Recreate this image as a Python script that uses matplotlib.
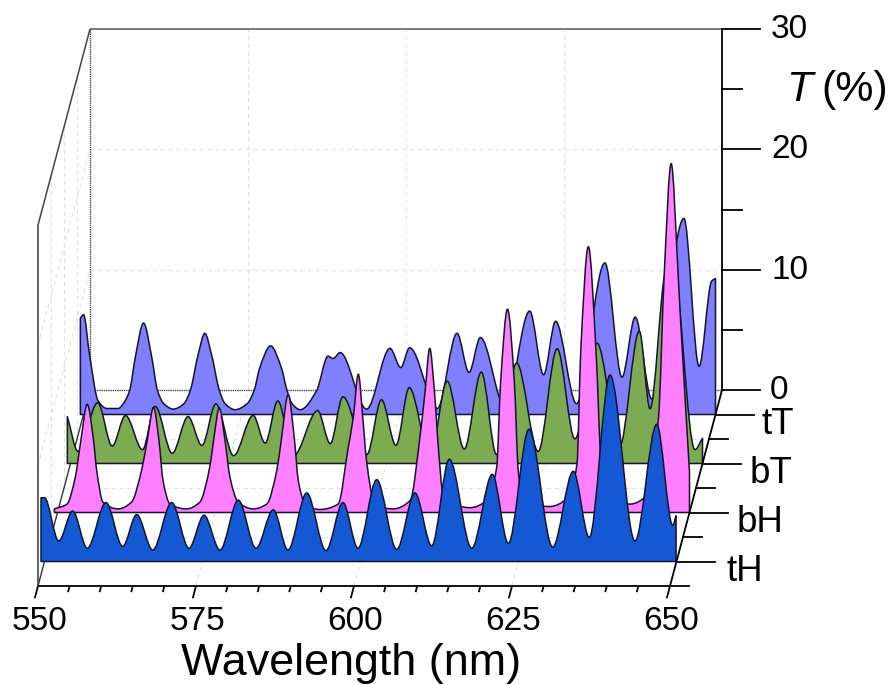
import numpy as np
import matplotlib
matplotlib.use("Agg")
import matplotlib.pyplot as plt
from matplotlib.path import Path
from matplotlib.patches import PathPatch
from matplotlib.transforms import Affine2D

plt.rcParams['font.family'] = ['Liberation Sans', 'DejaVu Sans']

## datos
wl_tT = [549.5, 550.0, 551.0, 552.3, 553.7, 555.5,
         556.3, 557.3, 558.2, 559.5, 560.8, 561.7, 562.7, 564.2,
         565.9, 566.9, 568.15, 569.2, 570.25, 571.5, 572.4, 574.0,
         575.9, 577.0, 577.9, 579.6, 581.3, 582.2, 583.0, 584.3,
         586.9, 588.7, 589.5, 590.6,
         594.8, 598.5, 600.2, 601.6, 606.0, 609.1, 611.0, 612.8, 616.7, 620.6, 622.8, 624.7, 628.0, 632.5, 635.2,
         637.3, 639.9, 645.0, 647.4, 649.4, 650.0]
T_tT = [8.0, 8.3, 4.8, 1.15, 0.5, 0.5,
        0.9, 2.0, 4.76, 7.6, 4.76, 2.0, 0.9, 0.45,
        0.9, 2.0, 5.0, 6.75, 5.0, 2.0, 0.9, 0.4,
        0.9, 2.0, 3.9, 5.7, 3.9, 2.0, 0.9, 0.4,
        2.0, 4.85, 4.65, 5.15,
        0.45, 5.5, 3.9, 5.55, 0.5, 6.75, 3.5, 6.4, 0.6, 8.6, 3.3, 7.75, 0.9, 12.6, 3.1,
        8.1, 1.3, 16.3, 4.0, 11.1, 11.3]

wl_bT = [549.5, 551.2, 554.3, 556.6, 558.7, 561.4, 563.4, 566.1, 568.6, 570.8, 573.0, 575.8, 578.9, 580.8, 582.8,
         585.3, 589.1, 591.1, 593.1, 596.9, 599.2, 601.5, 603.6, 606.9, 609.6, 612.3, 615.0, 617.4, 620.6, 624.0,
         627.0, 629.8, 633.3, 636.9, 640.0, 641.7, 644.1, 645.2, 648.8, 650.0]
T_bT = [3.9, 1.0, 5.05, 1.45, 4.0, 1.15, 4.75, 0.85, 3.9, 1.5, 4.95, 0.65, 4.0, 1.7, 5.2,
        0.65, 4.4, 1.65, 5.55, 0.75, 5.3, 1.5, 6.3, 0.65, 6.85, 1.2, 7.6, 0.75, 8.35, 1.0,
        9.55, 2.05, 10.0, 1.45, 11.0, 4.55, 15.85, 17.0, 1.15, 2.1]

wl_bH = [549.5, 551.5, 552.8, 553.7, 554.7, 555.7, 556.2, 557.2, 559.6,
         561.7, 563.3, 564.2, 565.2, 566.05, 566.7, 567.8, 570.4,
         572.5, 574.1, 574.7, 575.6, 576.5, 577.3, 578.6, 581.0,
         583.1, 584.7, 585.4, 586.5, 587.5, 588.1, 589.2, 591.5,
         594.4, 596.0, 596.8, 597.6, 598.3, 598.9, 600.2, 603.1,
         605.8, 607.4, 608.15, 608.9, 609.65, 610.3, 611.0, 615.3,
         617.9, 619.5, 620.1, 621.2, 622.3, 622.9, 623.7, 627.9,
         630.6, 632.2, 632.8, 634.0, 635.2, 636.0, 636.6, 640.6,
         643.2, 645.1, 646.0, 647.1, 648.2, 648.5, 650.0]
T_bH = [0.3, 0.7, 2.9, 6.0, 9.0, 6.0, 3.5, 0.85, 0.3,
        0.85, 3.5, 6.0, 8.75, 6.0, 2.65, 0.7, 0.3,
        0.85, 3.8, 6.0, 8.7, 6.0, 2.9, 0.85, 0.3,
        0.7, 3.5, 6.0, 9.8, 6.0, 2.65, 0.7, 0.25,
        0.7, 5.4, 7.9, 11.5, 7.9, 4.3, 0.7, 0.3,
        1.0, 6.5, 10.0, 13.65, 10.0, 5.15, 1.55, 0.4,
        1.0, 3.8, 10.7, 16.9, 10.7, 3.5, 1.0, 0.5,
        1.15, 4.05, 13.5, 22.1, 13.5, 4.05, 1.25, 0.7,
        1.4, 7.9, 19.8, 29.0, 19.8, 16.8, 3.35]

wl_tH = [549.45, 550.0, 552.25, 554.46, 556.77, 559.73, 562.37, 564.59, 567.12, 570.13, 572.86, 575.24, 577.77,
         580.66, 583.47, 586.2, 588.53, 591.49, 594.54, 597.23, 599.6, 602.56, 605.73, 608.62, 611.27, 614.05,
         617.6, 620.86, 623.39, 626.66, 630.41, 633.67, 636.2, 639.48, 643.43, 646.87, 649.4, 649.93]
T_tH = [5.3, 5.3, 1.7, 4.2, 1.1, 4.9, 1.25, 3.9, 0.95, 4.9, 1.1, 3.85, 0.95,
        5.1, 1.1, 4.3, 0.95, 5.7, 0.9, 4.9, 1.1, 6.8, 1.0, 5.7, 1.3, 8.5,
        1.1, 7.25, 1.5, 11.0, 1.2, 7.5, 2.0, 15.5, 1.7, 11.4, 3.0, 3.8]

series = [("tT", 7, wl_tT, T_tT, "#8080FF"),
          ("bT", 5, wl_bT, T_bT, "#7CAB52"),
          ("bH", 3, wl_bH, T_bH, "#FF80FF"),
          ("tH", 1, wl_tH, T_tH, "#1558D4")]

wl_major = [550, 575, 600, 625, 650]
wl_minor = [555, 560, 565, 570, 580, 585, 590, 595, 605, 610, 615, 620, 630, 635, 640, 645]
T_major = [0, 10, 20, 30]
T_minor = [5, 15, 25]

## caja 3D: (wl, T) en el plano de profundidad d -> pixeles
x0, y0 = 38.0, 586.0
sx, sy = 6.32, 12.03
dx, dy = 6.5, 24.5
dmax = 8

def plano(d):
    return Affine2D().from_values(sx, 0, 0, -sy, x0+dx*d-sx*550, y0-dy*d)

def spline(x, y):
    # tangentes tipo pchip para que las curvas no se pasen de los valores leidos
    x = np.array(x)
    y = np.array(y)
    h = np.diff(x)
    s = np.diff(y)/h
    m = np.zeros(len(x))
    for i in range(1, len(x)-1):
        if s[i-1]*s[i] > 0:
            w1 = 2*h[i]+h[i-1]
            w2 = h[i]+2*h[i-1]
            m[i] = (w1+w2)/(w1/s[i-1]+w2/s[i])
    m[0] = s[0]
    m[-1] = s[-1]
    verts = [(x[0], 0), (x[0], y[0])]
    codes = [Path.MOVETO, Path.LINETO]
    for i in range(len(h)):
        verts += [(x[i]+h[i]/3, y[i]+m[i]*h[i]/3), (x[i+1]-h[i]/3, y[i+1]-m[i+1]*h[i]/3), (x[i+1], y[i+1])]
        codes += [Path.CURVE4]*3
    verts += [(x[-1], 0), (x[0], 0)]
    codes += [Path.LINETO, Path.CLOSEPOLY]
    return Path(verts, codes)

fig = plt.figure(figsize=(8.91, 6.85), dpi=100)
ax = fig.add_axes([0, 0, 1, 1])
ax.set_xlim(0, 891)
ax.set_ylim(685, 0)
ax.axis("off")

def linea(wl, T, d, **kw):
    # cada punto (wl, T, d) se proyecta a la figura
    wl, T, d = np.array(wl, float), np.array(T, float), np.array(d, float)
    ax.plot(x0+dx*d+sx*(wl-550), y0-dy*d-sy*T, solid_capstyle="butt", **kw)

## rejilla
gris = dict(color="#e2e2e2", lw=0.8, ls=(0, (4, 3)), zorder=1)
for w in wl_major[1:-1]:
    linea([w, w], [0, 30], [dmax, dmax], **gris)
    linea([w, w], [0, 0], [0, dmax], **gris)
for t in T_major[1:-1]:
    linea([550, 650], [t, t], [dmax, dmax], **gris)
    linea([550, 550], [t, t], [0, dmax], **gris)
for d in [2, 4, 6]:
    linea([550, 550], [0, 30], [d, d], **gris)
    linea([550, 650], [0, 0], [d, d], **gris)

## caja
linea([550, 650], [30, 30], [dmax, dmax], color="#555555", lw=1.1, zorder=2)
linea([550, 550], [0, 30], [dmax, dmax], color="#444444", lw=1.0, ls=(0, (1, 0.6)), zorder=2)
linea([550, 650], [0, 0], [dmax, dmax], color="#444444", lw=1.0, ls=(0, (1, 0.6)), zorder=2)
linea([550, 550], [30, 30], [0, dmax], color="#444444", lw=1.1, zorder=2)
linea([550, 550], [0, 30], [0, 0], color="#555555", lw=1.3, zorder=2)
linea([550, 550], [0, 0], [0, dmax], color="#333333", lw=1.0, zorder=2)

## curvas, de atras hacia adelante
for nombre, d, wl, T, color in series:
    ax.add_patch(PathPatch(spline(wl, T), transform=plano(d)+ax.transData, facecolor=color,
                           edgecolor="#14142e", lw=1.1, joinstyle="round", zorder=3))

## ejes
negro = dict(color="black", lw=1.3, zorder=4)
linea([550, 650], [0, 0], [0, 0], **negro)
linea([650, 650], [0, 0], [0, dmax], **negro)
linea([650, 650], [0, 30], [dmax, dmax], **negro)

for w in wl_major:
    linea([w, w], [0, 0], [0, -0.5], **negro)
    ax.text(x0+sx*(w-550)+1.5, 622, str(w), fontsize=24, ha="center", va="center")
for w in wl_minor:
    linea([w, w], [0, 0], [0, -0.25], **negro)

xr = x0+sx*100+dx*dmax
yr = y0-dy*dmax
for t in T_major:
    ax.plot([xr, xr+38], [yr-sy*t, yr-sy*t], **negro)
for t in T_minor:
    ax.plot([xr, xr+20], [yr-sy*t, yr-sy*t], **negro)
for t in T_major[1:]:
    ax.text(771, yr-sy*t+0.5, str(t), fontsize=24, ha="left", va="center")
ax.text(770, 390.5, "0", fontsize=24, ha="left", va="center")

for d in range(0, dmax):
    xd = x0+sx*100+dx*d
    yd = y0-dy*d
    largo = 38 if d % 2 else 19
    ax.plot([xd, xd+largo], [yd, yd], **negro)
sep = {"tT": 46, "bT": 47, "bH": 47, "tH": 50}
for nombre, d, wl, T, color in series:
    ax.text(x0+sx*100+dx*d+sep[nombre], y0-dy*d+19.5, nombre, fontsize=26.5, ha="left", va="baseline")

ax.text(351, 675, "Wavelength (nm)", fontsize=32.3, ha="center", va="baseline")
ax.text(786, 101, "T", fontsize=31, style="italic", ha="left", va="baseline")
ax.text(821, 101, "(%)", fontsize=31, ha="left", va="baseline")

fig.savefig("out.png", dpi=100)
